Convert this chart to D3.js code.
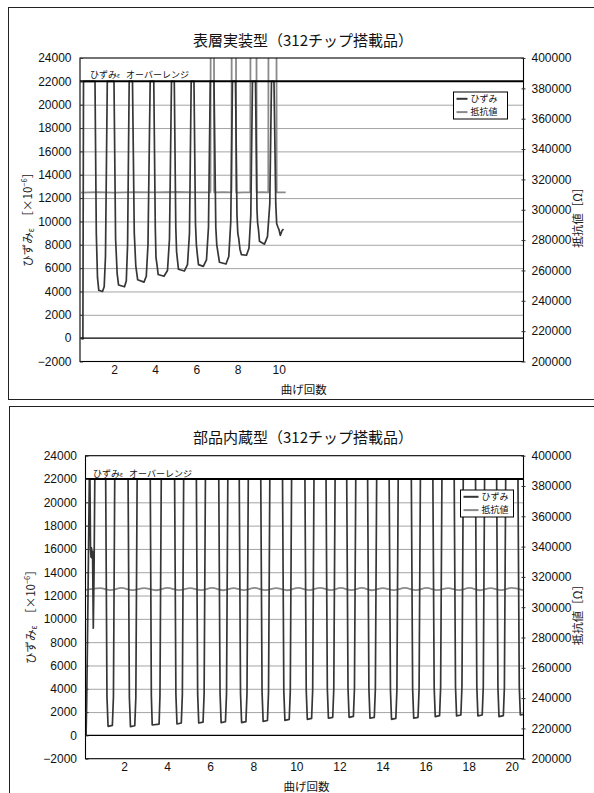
<!DOCTYPE html>
<html>
<head>
<meta charset="utf-8">
<script src="https://cdn.jsdelivr.net/npm/d3@7"></script>
<style>
  html, body { margin: 0; padding: 0; background: #fff; }
  svg { display: block; }
</style>
</head>
<body>
<svg id="chart" width="594" height="793"></svg>
<script>
// ---------- data ----------
const strainTicks = d3.range(-2000, 24001, 2000);      // left axis ひずみ
const resistTicks = d3.range(200000, 400001, 20000);   // right axis 抵抗値 [Ω]
const overRangeLevel = 22000;                          // strain gauge overrange
const topXTicks = [2, 4, 6, 8, 10];
const bottomXTicks = [2, 4, 6, 8, 10, 12, 14, 16, 18, 20];
const legendLabels = ["ひずみ", "抵抗値"];
const topTitle = "表層実装型（312チップ搭載品）";
const bottomTitle = "部品内蔵型（312チップ搭載品）";
const xTitle = "曲げ回数";
const noteText = "オーバーレンジ";

// 表層実装型: strain [bend count, ×10^-6]
const topStrain = [
  [0.40, 0], [0.49, -60], [0.52, 22000],
  [1.078, 22000], [1.141, 9000], [1.199, 5200], [1.262, 4100], [1.442, 4000], [1.524, 4400], [1.587, 7000], [1.675, 22000],
  [2.000, 22000], [2.078, 8500], [2.155, 5500], [2.223, 4550], [2.510, 4400], [2.597, 4900], [2.660, 8000], [2.738, 22000],
  [2.898, 22000], [2.985, 9000], [3.058, 6200], [3.150, 5000], [3.456, 4800], [3.568, 5300], [3.650, 8000], [3.757, 22000],
  [3.932, 22000], [4.005, 9500], [4.039, 6900], [4.087, 6300], [4.146, 5450], [4.427, 5300], [4.597, 5800], [4.694, 8500], [4.791, 22000],
  [4.927, 22000], [5.000, 9500], [5.039, 7400], [5.087, 6600], [5.131, 5900], [5.413, 5750], [5.568, 6300], [5.665, 9000], [5.748, 22000],
  [5.883, 22000], [5.956, 9800], [6.000, 8000], [6.044, 7200], [6.102, 6300], [6.335, 6150], [6.490, 6700], [6.587, 9500], [6.675, 22000],
  [6.854, 22000], [6.942, 9500], [6.990, 8000], [7.049, 7300], [7.121, 6500], [7.437, 6350], [7.573, 7000], [7.670, 10000], [7.752, 22000],
  [7.898, 22000], [7.971, 10500], [8.010, 9000], [8.058, 8500], [8.117, 7600], [8.189, 7150], [8.432, 7100], [8.553, 7700], [8.641, 10500], [8.723, 22000],
  [8.869, 22000], [8.942, 11000], [8.971, 9900], [9.015, 9300], [9.063, 8300], [9.306, 8050], [9.451, 8700], [9.563, 11500], [9.646, 22000],
  [9.767, 22000], [9.854, 11500], [9.898, 9800], [9.961, 9500], [10.010, 9300], [10.073, 8800], [10.155, 9200], [10.228, 9350]
];

// 表層実装型: resistance [bend count, Ω]; 420000 = open circuit (off scale)
const topResist = [
  [0.40, 311300], [1.2, 311600], [2.0, 311300], [3.0, 311600], [4.0, 311400], [5.0, 311700], [6.0, 311400],
  [6.684, 311500], [6.694, 420000], [6.854, 420000], [6.864, 311400], [7.3, 311600],
  [7.704, 311400], [7.714, 420000], [7.922, 420000], [7.932, 311300], [8.3, 311500],
  [8.617, 311400], [8.626, 420000], [8.917, 420000], [8.927, 311400], [9.2, 311600],
  [9.490, 311400], [9.500, 420000], [9.888, 420000], [9.898, 311400], [10.335, 311500]
];

// 部品内蔵型: strain [bend count, ×10^-6]
const bottomStrain = [
  [0.24, 0], [0.27, 3000], [0.33, 12000], [0.39, 22000], [0.42, 22000], [0.445, 16000], [0.47, 15300],
  [0.49, 16100], [0.515, 15200], [0.54, 15800], [0.575, 9200], [0.61, 14000], [0.645, 22000],
  [1.15, 22000], [1.21, 3300], [1.26, 780], [1.46, 860], [1.51, 3300], [1.57, 22000],
  [2.19, 22000], [2.25, 3250], [2.30, 750], [2.50, 830], [2.55, 3250], [2.61, 22000],
  [3.22, 22000], [3.27, 3400], [3.31, 890], [3.63, 970], [3.67, 3400], [3.73, 22000],
  [4.35, 22000], [4.41, 3500], [4.46, 980], [4.66, 1060], [4.71, 3500], [4.77, 22000],
  [5.36, 22000], [5.42, 3560], [5.47, 1060], [5.67, 1140], [5.72, 3560], [5.78, 22000],
  [6.40, 22000], [6.46, 3600], [6.51, 1090], [6.71, 1170], [6.76, 3600], [6.82, 22000],
  [7.35, 22000], [7.41, 3600], [7.46, 1100], [7.66, 1180], [7.71, 3600], [7.77, 22000],
  [8.35, 22000], [8.41, 3700], [8.46, 1200], [8.66, 1280], [8.71, 3700], [8.77, 22000],
  [9.36, 22000], [9.42, 3800], [9.47, 1290], [9.67, 1370], [9.72, 3800], [9.78, 22000],
  [10.40, 22000], [10.46, 3900], [10.51, 1380], [10.71, 1460], [10.76, 3900], [10.82, 22000],
  [11.38, 22000], [11.44, 4000], [11.49, 1470], [11.69, 1550], [11.74, 4000], [11.80, 22000],
  [12.34, 22000], [12.40, 4050], [12.45, 1550], [12.65, 1630], [12.70, 4050], [12.76, 22000],
  [13.31, 22000], [13.37, 4000], [13.42, 1470], [13.62, 1550], [13.67, 4000], [13.73, 22000],
  [14.31, 22000], [14.37, 3900], [14.42, 1380], [14.62, 1460], [14.67, 3900], [14.73, 22000],
  [15.34, 22000], [15.40, 4000], [15.45, 1470], [15.65, 1550], [15.70, 4000], [15.76, 22000],
  [16.34, 22000], [16.40, 4100], [16.45, 1610], [16.65, 1690], [16.70, 4100], [16.76, 22000],
  [17.33, 22000], [17.39, 4200], [17.44, 1670], [17.64, 1750], [17.69, 4200], [17.75, 22000],
  [18.32, 22000], [18.38, 4200], [18.43, 1670], [18.63, 1750], [18.68, 4200], [18.74, 22000],
  [19.30, 22000], [19.36, 4100], [19.41, 1610], [19.61, 1690], [19.66, 4100], [19.72, 22000],
  [20.29, 22000], [20.35, 4250], [20.40, 1750], [20.52, 1800]
];

// 部品内蔵型: resistance [bend count, Ω]
const bottomResist = [
  [0.24, 311500], [0.90, 312600], [1.36, 311300], [1.88, 312700], [2.40, 311300], [2.94, 312600],
  [3.48, 311200], [4.02, 312700], [4.56, 311300], [5.07, 312600], [5.57, 311300], [6.09, 312700],
  [6.61, 311200], [7.09, 312600], [7.56, 311300], [8.06, 312700], [8.56, 311300], [9.07, 312600],
  [9.57, 311200], [10.09, 312700], [10.61, 311300], [11.10, 312800], [11.59, 311300], [12.07, 312700],
  [12.55, 311300], [13.04, 312700], [13.52, 311200], [14.02, 312600], [14.52, 311300], [15.04, 312700],
  [15.55, 311300], [16.05, 312700], [16.55, 311300], [17.05, 312600], [17.54, 311300], [18.04, 312700],
  [18.53, 311200], [19.02, 312600], [19.51, 311300], [19.98, 312700], [20.52, 311200]
];

// ---------- drawing ----------
const CJK = "'Noto Sans CJK JP', 'Noto Sans', sans-serif";
const NUM = "'Liberation Sans', Arial, sans-serif";
const STRAIN_COLOR = "#363636";
const RESIST_COLOR = "#8a8a8a";
const GRID_COLOR = "#a4a4a4";

const svg = d3.select("#chart");

function drawPanel(p) {
  const g = svg.append("g");

  // outer chart frame (open on the right / bottom edge of the page)
  g.append("rect")
    .attr("x", p.frame[0]).attr("y", p.frame[1])
    .attr("width", p.frame[2]).attr("height", p.frame[3])
    .attr("fill", "none").attr("stroke", "#222").attr("stroke-width", 1);

  const x = d3.scaleLinear().domain(p.xDomain).range([p.left, p.right]);
  const yL = d3.scaleLinear().domain([-2000, 24000]).range([p.bottom, p.top]);
  const yR = d3.scaleLinear().domain([200000, 400000]).range([p.bottom, p.top]);

  const clipId = "clip-" + p.id;
  svg.append("defs").append("clipPath").attr("id", clipId)
    .append("rect")
    .attr("x", p.left).attr("y", p.top)
    .attr("width", p.right - p.left).attr("height", p.bottom - p.top);

  // horizontal gridlines
  g.append("g").selectAll("line")
    .data(strainTicks.filter(v => v > -2000 && v < 24000 && v !== 0 && v !== overRangeLevel))
    .join("line")
    .attr("x1", p.left).attr("x2", p.right)
    .attr("y1", d => yL(d) + 0.5).attr("y2", d => yL(d) + 0.5)
    .attr("stroke", GRID_COLOR).attr("stroke-width", 1);

  const plot = g.append("g").attr("clip-path", `url(#${clipId})`);

  // resistance (secondary axis)
  plot.append("path")
    .datum(p.resist)
    .attr("fill", "none")
    .attr("stroke", RESIST_COLOR)
    .attr("stroke-width", 1.8)
    .attr("stroke-linejoin", "round")
    .attr("d", d3.line().x(d => x(d[0])).y(d => yR(d[1])).curve(p.resistCurve));

  // strain (primary axis)
  plot.append("path")
    .datum(p.strain)
    .attr("fill", "none")
    .attr("stroke", STRAIN_COLOR)
    .attr("stroke-width", 1.7)
    .attr("stroke-linejoin", "round")
    .attr("d", d3.line().x(d => x(d[0])).y(d => yL(d[1])));

  // zero line and overrange line
  g.append("line")
    .attr("x1", p.left).attr("x2", p.right)
    .attr("y1", yL(0)).attr("y2", yL(0))
    .attr("stroke", "#000").attr("stroke-width", 1.3);
  g.append("line")
    .attr("x1", p.left).attr("x2", p.right)
    .attr("y1", yL(overRangeLevel)).attr("y2", yL(overRangeLevel))
    .attr("stroke", "#000").attr("stroke-width", 2);

  // plot border
  g.append("rect")
    .attr("x", p.left).attr("y", p.top)
    .attr("width", p.right - p.left).attr("height", p.bottom - p.top)
    .attr("fill", "none").attr("stroke", "#000").attr("stroke-width", 1.1);

  // left axis
  const axL = g.append("g").attr("transform", `translate(${p.left},0)`)
    .call(d3.axisLeft(yL).tickValues(strainTicks).tickFormat(d3.format("d"))
      .tickSizeInner(-3).tickSizeOuter(0).tickPadding(8.5));
  axL.select(".domain").remove();
  axL.selectAll("line").attr("stroke", "#333");
  axL.selectAll("text").attr("font-family", NUM).attr("font-size", 12).attr("fill", "#111");

  // right axis
  const axR = g.append("g").attr("transform", `translate(${p.right},0)`)
    .call(d3.axisRight(yR).tickValues(resistTicks).tickFormat(d3.format("d"))
      .tickSizeInner(2).tickSizeOuter(0).tickPadding(6));
  axR.select(".domain").remove();
  axR.selectAll("line").attr("x1", -2).attr("stroke", "#333");
  axR.selectAll("text").attr("font-family", NUM).attr("font-size", 12).attr("fill", "#111");

  // bottom axis labels
  const axB = g.append("g").attr("transform", `translate(0,${p.bottom})`)
    .call(d3.axisBottom(x).tickValues(p.xTicks).tickFormat(d3.format("d"))
      .tickSize(0).tickPadding(4));
  axB.select(".domain").remove();
  axB.selectAll("text").attr("font-family", NUM).attr("font-size", 12).attr("fill", "#111");

  // chart title
  g.append("text")
    .attr("x", p.titleX).attr("y", p.titleY)
    .attr("text-anchor", "middle")
    .attr("font-family", CJK).attr("font-size", 15).attr("fill", "#111")
    .text(p.title);

  // x-axis title
  g.append("text")
    .attr("x", (p.left + p.right) / 2 + 2).attr("y", p.bottom + 32)
    .attr("text-anchor", "middle")
    .attr("font-family", CJK).attr("font-size", 11.5).attr("fill", "#111")
    .text(xTitle);

  // left axis title (rotated)
  const lt = g.append("text")
    .attr("transform", `translate(${p.leftTitleX},${(p.top + p.bottom) / 2 + 7}) rotate(-90)`)
    .attr("text-anchor", "middle")
    .attr("font-family", CJK).attr("font-size", 11.5).attr("fill", "#222");
  lt.append("tspan").text("ひずみ");
  lt.append("tspan").attr("font-size", 8).attr("dy", 2).text("ε");
  lt.append("tspan").attr("dy", -2).text("　［×10");
  lt.append("tspan").attr("font-size", 7.5).attr("dy", -5).text("−6");
  lt.append("tspan").attr("dy", 5).text("］");

  // right axis title (rotated)
  g.append("text")
    .attr("transform", `translate(${p.rightTitleX},${(p.top + p.bottom) / 2 + 5}) rotate(-90)`)
    .attr("text-anchor", "middle")
    .attr("font-family", CJK).attr("font-size", 11.5).attr("fill", "#222")
    .text("抵抗値［Ω］");

  // overrange note above the 22000 line
  const nt = g.append("text")
    .attr("x", p.noteX).attr("y", p.noteY)
    .attr("font-family", CJK).attr("font-size", 9).attr("fill", "#111");
  nt.append("tspan").text("ひずみ");
  nt.append("tspan").attr("font-size", 6).text("ε");
  nt.append("tspan").attr("dx", 6).text(noteText);

  // legend
  const lg = g.append("g").attr("transform", `translate(${p.legend[0]},${p.legend[1]})`);
  lg.append("rect")
    .attr("width", p.legend[2]).attr("height", p.legend[3])
    .attr("fill", "#fff").attr("stroke", "#000").attr("stroke-width", 1);
  const rows = [STRAIN_COLOR, RESIST_COLOR];
  legendLabels.forEach((label, i) => {
    const ry = p.legendRows[i];
    lg.append("line")
      .attr("x1", 3).attr("x2", 3 + p.legendLine)
      .attr("y1", ry).attr("y2", ry)
      .attr("stroke", rows[i]).attr("stroke-width", 2);
    lg.append("text")
      .attr("x", 6 + p.legendLine).attr("y", ry + 3.2)
      .attr("font-family", CJK).attr("font-size", 9).attr("fill", "#111")
      .text(label);
  });
}

drawPanel({
  id: "top", title: topTitle, titleX: 303, titleY: 46,
  frame: [8.5, 7.5, 620, 392],
  left: 80, right: 523.5, top: 58, bottom: 361.5,
  xDomain: [0.35, 21.88], xTicks: topXTicks,
  strain: topStrain, resist: topResist, resistCurve: d3.curveLinear,
  leftTitleX: 32, rightTitleX: 582,
  noteX: 90, noteY: 77.5,
  legend: [453.5, 92, 54, 27], legendRows: [6.8, 20.1], legendLine: 11
});

drawPanel({
  id: "bottom", title: bottomTitle, titleX: 303, titleY: 443,
  frame: [9.5, 406.5, 620, 420],
  left: 85.5, right: 523.5, top: 455.7, bottom: 758.7,
  xDomain: [0.213, 20.547], xTicks: bottomXTicks,
  strain: bottomStrain, resist: bottomResist, resistCurve: d3.curveMonotoneX,
  leftTitleX: 35, rightTitleX: 582,
  noteX: 93, noteY: 477,
  legend: [460.5, 490, 53, 27], legendRows: [6.8, 20.1], legendLine: 15
});
</script>
</body>
</html>
